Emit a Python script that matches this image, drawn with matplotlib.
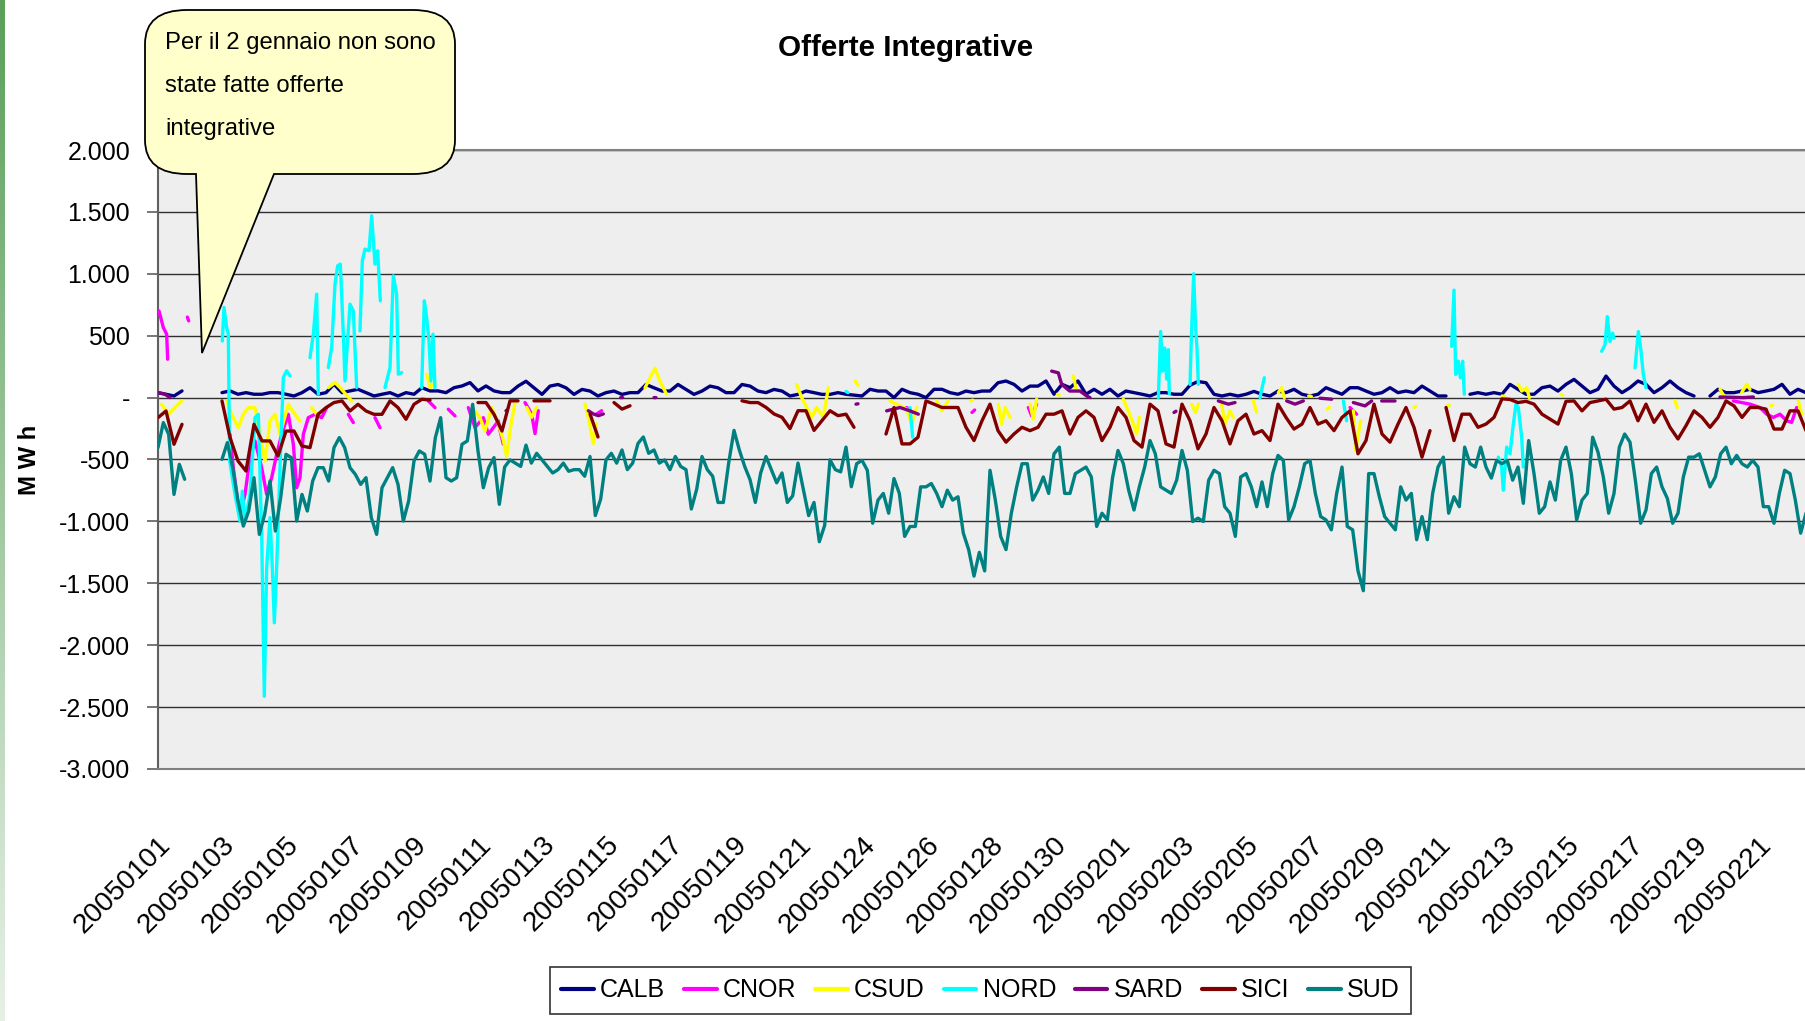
import numpy as np
import matplotlib
matplotlib.use('Agg')
import matplotlib.pyplot as plt
from matplotlib import font_manager
from matplotlib.path import Path
from matplotlib.patches import PathPatch
from matplotlib.ticker import FuncFormatter

nan = np.nan

# Etichette asse x: una ogni 48 ore
date_etichette = ['20050101', '20050103', '20050105', '20050107', '20050109', '20050111',
                  '20050113', '20050115', '20050117', '20050119', '20050121', '20050124',
                  '20050126', '20050128', '20050130', '20050201', '20050203', '20050205',
                  '20050207', '20050209', '20050211', '20050213', '20050215', '20050217',
                  '20050219', '20050221']
ore_per_etichetta = 48

# SUD: un valore ogni 4 ore (6 per giorno), il 2 gennaio manca
passo_sud = 4
sud = [-404, -202, -296, -782, -539, -660,
       nan, nan, nan, nan, nan, nan,
       -499, -364, -566, -835, -1038, -916,
       -647, -1105, -943, -674, -1078, -808,
       -458, -485, -997, -782, -916, -674,
       -566, -566, -674, -404, -323, -404,
       -566, -620, -701, -647, -970, -1105,
       -728, -647, -566, -701, -997, -835,
       -512, -431, -458, -674, -323, -162,
       -647, -674, -647, -377, -350, -54,
       -431, -728, -566, -485, -862, -560,
       -503, -529, -556, -384, -529, -450,
       -503, -556, -609, -582, -529, -595,
       -582, -582, -635, -476, -953, -820,
       -503, -450, -529, -423, -582, -529,
       -370, -318, -450, -423, -529, -503,
       -582, -476, -556, -582, -900, -741,
       -476, -582, -635, -847, -847, -529,
       -265, -423, -556, -662, -847, -609,
       -476, -582, -688, -609, -847, -794,
       -529, -741, -953, -847, -1164, -1032,
       -503, -582, -600, -400, -720, -534,
       -507, -587, -1015, -828, -774, -934,
       -654, -774, -1121, -1041, -1041, -721,
       -721, -694, -774, -881, -748, -828,
       -801, -1095, -1228, -1442, -1250, -1400,
       -587, -828, -1121, -1228, -934, -721,
       -534, -534, -828, -748, -641, -774,
       -454, -400, -774, -774, -614, -587,
       -561, -641, -1041, -934, -988, -641,
       -427, -534, -748, -908, -721, -561,
       -347, -454, -721, -748, -774, -667,
       -427, -587, -1001, -974, -1001, -667,
       -587, -614, -881, -934, -1121, -641,
       -614, -721, -881, -681, -881, -614,
       -467, -507, -988, -881, -721, -534,
       -507, -774, -961, -988, -1068, -774,
       -561, -1041, -1068, -1400, -1560, -614,
       -614, -801, -961, -1015, -1068, -721,
       -828, -774, -1148, -961, -1148, -774,
       -561, -481, -934, -801, -881, -400,
       -534, -561, -400, -561, -650, -507,
       -534, -507, -667, -561, -854, -347,
       -614, -934, -881, -681, -828, -507,
       -400, -614, -988, -828, -774, -320,
       -441, -641, -934, -774, -400, -294,
       -360, -667, -1015, -908, -614, -561,
       -721, -814, -1015, -934, -641, -481,
       -481, -454, -587, -721, -641, -454,
       -400, -534, -467, -534, -561, -507,
       -561, -881, -881, -1015, -774, -587,
       -614, -828, -1095, -934]

# SICI: un valore ogni 6 ore
passo_sici = 6
sici = [-162, -108, -377, -216,
        nan, nan, nan, nan,
        -27, -323, -512, -593,
        -216, -350, -350, -472,
        -270, -270, -391, -404,
        -135, -81, -40, -27,
        -108, -54, -108, -135,
        -135, -27, -81, -175,
        -54, -13, -20, nan,
        nan, nan, nan, nan,
        -40, -40, -135, -270,
        -26, -26, nan, -26,
        -26, -26, nan, nan,
        -79, nan, -132, -318,
        nan, -40, -93, -66,
        nan, nan, nan, nan,
        nan, nan, nan, -26,
        nan, nan, nan, -26,
        nan, -26, -40, -40,
        -79, -132, -159, -250,
        -106, -106, -265, -185,
        -106, -146, -134, -240,
        nan, nan, nan, -294,
        -80, -374, -374, -320,
        -27, -53, -80, -80,
        -80, -240, -347, -187,
        -53, -267, -360, -294,
        -240, -267, -240, -134,
        -134, -107, -294, -160,
        -107, -160, -347, -240,
        -80, -160, -347, -400,
        -53, -107, -374, -400,
        -53, -187, -414, -294,
        -80, -187, -374, -187,
        -134, -294, -267, -347,
        -53, -160, -254, -214,
        -80, -214, -187, -267,
        -160, -107, -454, -347,
        -53, -294, -360, -214,
        -80, -240, -481, -267,
        nan, -80, -347, -134,
        -134, -240, -214, -160,
        -10, -15, -40, -30,
        -53, -134, -174, -214,
        -30, -27, -107, -40,
        -27, -13, -93, -80,
        -27, -187, -53, -200,
        -107, -240, -334, -227,
        -107, -160, -240, -160,
        -27, -67, -160, -80,
        -80, -93, -254, -254,
        -107, -107, -267]

# CALB: un valore ogni 6 ore
passo_calb = 6
calb = [40, 27, 13, 54,
        nan, nan, nan, nan,
        40, 54, 27, 40,
        27, 27, 40, 40,
        27, 13, 40, 80,
        27, 40, 108, 40,
        54, 67, 40, 13,
        27, 40, 13, 40,
        27, 80, 54, 54,
        40, 80, 94, 121,
        54, 94, 54, 40,
        40, 93, 132, 79,
        26, 93, 106, 79,
        26, 66, 53, 13,
        40, 53, 26, 40,
        40, 106, 79, 53,
        53, 106, 66, 26,
        53, 93, 79, 40,
        40, 106, 93, 53,
        40, 66, 53, 13,
        26, 53, 40, 26,
        26, 40, 27, 20,
        13, 67, 53, 53,
        0, 67, 40, 27,
        0, 67, 67, 40,
        27, 53, 40, 53,
        53, 120, 134, 107,
        53, 93, 93, 134,
        27, 107, 80, 134,
        27, 67, 27, 67,
        13, 53, 40, 27,
        13, 40, 40, 27,
        27, 100, 130, 120,
        27, 13, 27, 13,
        27, 50, 27, 13,
        53, 40, 67, 27,
        13, 27, 80, 53,
        27, 80, 80, 53,
        27, 40, 80, 40,
        53, 40, 93, 53,
        13, 13, nan, nan,
        27, 40, 27, 40,
        27, 107, 67, 27,
        27, 80, 93, 53,
        107, 147, 93, 40,
        67, 174, 93, 40,
        80, 134, 107, 40,
        80, 134, 80, 40,
        13, nan, 13, 67,
        40, 40, 53, 67,
        40, 53, 67, 107,
        27, 67, 40]

# Serie a tratti: ora e valore (nan = interruzione)
nord_ore = [48.25, 49.5, 51.5, 52.75, 53.75, 57.75, 61.5, 63.25, 65.25, 69, 72.75, 75.25,
            77.75, 79.75, 81.5, 84, 85.75, 87.25, 89, 91.5, 94, 96.5, 99, 100,
            114, 116.5, 119, 120.25, 121,
            127.75, 130.25, 132.75, 134.75, 136.75, 139, 140.25, 144, 146.5, 149, 150,
            151.5, 153.25, 155.25, 158.25, 160.25, 162.75, 164.75, 166.75, 168,
            170.25, 174, 176.5, 179, 180.25, 182.75, 184,
            197.75, 199.75, 201.5, 203.25, 204.75, 206.25, 207.75, 209,
            516, 517.5, 518,
            564, 566, 567,
            750.25, 752, 753.5, 755, 756.5, 757.75, 758.5, 759,
            774, 775.25, 776.75, 778.25, 779.25, 780.25, 781,
            826.5, 829.75, 830,
            889, 891.5, 892,
            970.25, 972, 973.25, 975.25, 976.75, 978.5, 979.75, 980,
            1005.25, 1007.75, 1009, 1011.5, 1014, 1016.5, 1018.5, 1020.25, 1022.75, 1024, 1025,
            1082.75, 1085.25, 1087, 1089, 1091, 1092, 1093,
            1107.75, 1110.25, 1112, 1114, 1116]
nord_val = [458, 728, 566, 512, -512, -782, -997, -755, -997, -782, -162, -135,
            -1105, -2412, -1374, -970, -1374, -1819, -1374, -566, 162, 216, 175, nan,
            323, 512, 835, 27, nan,
            243, 404, 916, 1065, 1078, 512, 135, 755, 700, 81, nan,
            539, 1105, 1199, 1186, 1469, 1078, 1186, 782, nan,
            81, 243, 984, 835, 189, 202, nan,
            81, 782, 647, 458, 135, 512, 81, nan,
            50, 40, nan,
            -80, -320, nan,
            0, 534, 214, 400, 150, 387, 30, nan,
            107, 560, 1000, 560, 400, 107, nan,
            0, 160, nan,
            -27, -187, nan,
            414, 868, 187, 294, 160, 294, 27, nan,
            -481, -561, -748, -400, -454, -214, -53, -80, -320, -561, nan,
            374, 427, 654, 454, 520, 480, nan,
            240, 534, 400, 187, 80]

cnor_ore = [0.75, 4, 6.5, 7.25, 8,
            22, 23, 24,
            54, 56.5, 59.75, 62.25, 65.25, 69, 72.75, 77.75, 81.5, 85.25, 89, 92.75, 97.75,
            101.5, 104, 106.5, 109, 112.75, 117.75, 122.75, 126.5, 127,
            142.75, 146.5, 147,
            162.75, 166.5, 167,
            202.75, 207.75, 208,
            217.75, 222.75, 223,
            232.75, 237.75, 244, 247.75, 255.25, 256.5, 259, 260,
            275.25, 280.25, 282.75, 285.25, 286,
            329, 332.75, 333,
            561.5, 565.25, 566,
            610.5, 612.5, 613,
            652.75, 655.25, 659, 660,
            894, 899, 900,
            1181.5, 1194, 1201.5, 1206.5, 1211.5, 1216.5, 1221.5, 1225.25, 1229]
cnor_val = [700, 566, 512, 310, nan,
            650, 620, nan,
            -296, -566, -835, -916, -782, -485, -350, -566, -782, -647, -458, -296, -135,
            -377, -728, -647, -296, -162, -135, -162, -81, nan,
            -135, -202, nan,
            -162, -243, nan,
            -27, -81, nan,
            -94, -148, nan,
            -81, -243, -162, -296, -189, -265, -377, nan,
            -40, -132, -291, -106, nan,
            -132, -106, nan,
            -80, -120, nan,
            -120, -100, nan,
            -80, -147, -53, nan,
            -80, -134, nan,
            -27, -53, -80, -134, -160, -134, -187, -200, -80]

csud_ore = [2.75, 7.75, 12.75, 17.75, 18,
            51.5, 55.25, 60.25, 64, 67.75, 72.75, 76.5, 80.25, 84, 87.75, 91.5, 97.75, 102.75, 106.5, 107,
            115.25, 119, 120,
            127.75, 132.75, 136.5, 145.25, 146,
            201.5, 204, 207.75, 208,
            237.75, 241.5, 245.25, 250.25, 255.25, 259, 261.5, 264, 267.75, 268,
            276.5, 280.25, 284, 285,
            320.25, 322.75, 326.5, 329, 330,
            365.25, 369, 372.75, 376.5, 381.5, 382,
            479, 482.75, 486.5, 490.25, 494, 499, 502.75, 503,
            523, 525, 526,
            549, 554, 561.5, 565.25, 569, 570,
            584, 587.75, 592.75, 593,
            609.5, 611, 612,
            630.25, 632.75, 635.25, 639, 640,
            654, 656.5, 659, 660,
            674.5, 676, 677,
            686.5, 689, 690,
            724, 727.75, 731.5, 734, 736, 737,
            775.25, 778.25, 780.25, 781,
            797.75, 800.25, 804, 806.5, 807,
            821.5, 824, 825,
            840.25, 842.75, 844.75, 845,
            863, 865, 866,
            877, 878.5, 879,
            896.5, 898.25, 900.25, 902, 903,
            942, 943.5, 944,
            967, 968.5, 969,
            1008, 1010, 1011,
            1020.25, 1022.75, 1026.5, 1028.5, 1029,
            1052, 1053.5, 1054,
            1137.75, 1139.5, 1140,
            1171.5, 1175.25, 1176,
            1187.75, 1191.5, 1194, 1195,
            1209.5, 1211, 1212,
            1230.25, 1232.75]
csud_val = [-54, -135, -81, -27, nan,
            -27, -135, -243, -135, -81, -81, -296, -512, -189, -135, -296, -54, -135, -189, nan,
            -81, -135, nan,
            81, 121, 81, -27, nan,
            189, 81, 121, nan,
            -108, -162, -270, -81, -212, -344, -476, -265, -40, nan,
            -79, -159, -79, nan,
            -53, -159, -370, -212, nan,
            79, 159, 238, 132, 26, nan,
            106, 0, -79, -159, -79, -159, 79, nan,
            133, 100, nan,
            -27, -53, -93, -214, -80, nan,
            -27, -107, -27, nan,
            -27, -20, nan,
            -53, -214, -80, -160, nan,
            -53, -174, -13, nan,
            27, 20, nan,
            174, 53, nan,
            -13, -107, -214, -294, -160, nan,
            -53, -120, -53, nan,
            -53, -214, -107, -160, nan,
            -27, -120, nan,
            40, 80, 0, nan,
            13, 10, nan,
            -93, -80, nan,
            -107, -427, -294, -187, nan,
            -80, -70, nan,
            -67, -60, nan,
            13, 10, nan,
            107, 53, 80, 0, nan,
            27, 20, nan,
            -27, -80, nan,
            67, 0, nan,
            40, 107, 67, nan,
            -67, -60, nan,
            -27, -134]

sard_ore = [0.25, 5.25, 9, 10,
            261, 262, 263,
            322.75, 326.5, 330.25, 334, 335,
            347, 348.5, 349,
            372, 373.5, 374,
            523.5, 525, 526,
            546.5, 556.5, 564, 570.25, 571,
            670.25, 675.25, 677.75, 683.75, 691.5, 696.5, 699, 700,
            762, 763.5, 764,
            795.25, 802.75, 807.75, 808,
            846.5, 852.75, 859, 860,
            871.5, 880.25, 881,
            896.5, 905.25, 910.25, 911,
            917.75, 927.75, 928,
            1171.5, 1189, 1196.5]
sard_val = [40, 27, 0, nan,
            -106, -100, nan,
            -106, -132, -146, -132, nan,
            0, 0, nan,
            0, 0, nan,
            -53, -50, nan,
            -107, -80, -107, -134, nan,
            214, 200, 107, 53, 53, 13, 0, nan,
            -120, -110, nan,
            -27, -53, -40, nan,
            -27, -53, -27, nan,
            -5, -13, nan,
            -40, -67, -27, nan,
            -27, -27, nan,
            5, 0, 5]

zone = ['CALB', 'CNOR', 'CSUD', 'NORD', 'SARD', 'SICI', 'SUD']
colori = ['#000080', '#FF00FF', '#FFFF00', '#00FFFF', '#800080', '#800000', '#008080']

# Font stretto simile all'originale, se disponibile
disponibili = {f.name for f in font_manager.fontManager.ttflist}
if 'Liberation Sans Narrow' in disponibili:
    font, k = 'Liberation Sans Narrow', 1.0
else:
    font, k = 'Liberation Sans', 0.82
plt.rcParams['font.family'] = [font, 'DejaVu Sans']

W, H = 1805, 1021
fig = plt.figure(figsize=(W / 100, H / 100), dpi=100)
fig.patch.set_facecolor('white')

# area del grafico (continua oltre il bordo destro)
ax = fig.add_axes([158 / W, 1 - 769 / H, 1 - 158 / W, (769 - 150) / H])
ax.set_facecolor('#EEEEEE')

serie = {
    'CALB': (np.arange(len(calb)) * passo_calb, np.array(calb, dtype=float)),
    'CNOR': (np.array(cnor_ore), np.array(cnor_val, dtype=float)),
    'CSUD': (np.array(csud_ore), np.array(csud_val, dtype=float)),
    'NORD': (np.array(nord_ore), np.array(nord_val, dtype=float)),
    'SARD': (np.array(sard_ore), np.array(sard_val, dtype=float)),
    'SICI': (np.arange(len(sici)) * passo_sici, np.array(sici, dtype=float)),
    'SUD': (np.arange(len(sud)) * passo_sud, np.array(sud, dtype=float)),
}
for i, (zona, colore) in enumerate(zip(zone, colori)):
    x, y = serie[zona]
    ax.plot(x, y, color=colore, lw=2.4, label=zona, zorder=3 + i, solid_capstyle='round')

ax.set_ylim(-3000, 2000)
ax.set_xlim(0, (W - 158) / (64 / ore_per_etichetta))
ax.set_yticks(np.arange(-3000, 2001, 500))
ax.yaxis.set_major_formatter(FuncFormatter(
    lambda v, p: '-' if v == 0 else f'{int(v):,}'.replace(',', '.')))
ax.grid(axis='y', color='#303030', lw=1.0)
ax.set_axisbelow(True)
ax.tick_params(axis='y', length=8, width=1.2, color='#606060', pad=12,
               labelsize=22 * k)
ax.set_xticks(np.arange(len(date_etichette)) * ore_per_etichetta)
ax.set_xticklabels(date_etichette, rotation=45, ha='right', va='top',
                   rotation_mode='anchor', fontsize=24.5 * k)
ax.tick_params(axis='x', length=0, pad=45)
ax.spines['right'].set_visible(False)
ax.spines['left'].set_color('#606060')
ax.spines['left'].set_linewidth(1.5)
ax.spines['bottom'].set_color('#808080')
ax.spines['bottom'].set_linewidth(1.5)
ax.spines['top'].set_color('#808080')
ax.spines['top'].set_linewidth(1.5)

fig.text(906 / W, 1 - 48 / H, 'Offerte Integrative', ha='center', va='center',
         fontsize=26 * k, fontweight='bold')
fig.text(29 / W, 1 - 460 / H, 'M W h', ha='center', va='center', rotation=90,
         fontsize=21 * k, fontweight='bold')

leg = fig.legend(loc='upper left', bbox_to_anchor=(550 / W, -0.05, 861 / W, 0.05 + 1 - 967 / H),
                 mode='expand', ncol=7, frameon=True, fancybox=False, fontsize=22 * k,
                 handlelength=1.3, handletextpad=0.25, borderaxespad=0, borderpad=0.45)
leg.get_frame().set_edgecolor('black')
leg.get_frame().set_linewidth(1.2)
for linea in leg.get_lines():
    linea.set_linewidth(3)

# livello sovrapposto in pixel per fumetto e striscia laterale
ov = fig.add_axes([0, 0, 1, 1], zorder=10)
ov.axis('off')

grad = np.linspace(0, 1, 256).reshape(-1, 1)
ov.imshow(grad, extent=[0, 5, H, 0], aspect='auto',
          cmap=matplotlib.colors.LinearSegmentedColormap.from_list('verde', ['#5a9f5a', '#e6f1e6']))
ov.set_xlim(0, W)
ov.set_ylim(H, 0)

L, R, T, B = 145, 455, 10, 174
rx, ry = 42, 34
b1, b2, punta = 196, 274, (202, 353)
vert = [(L + rx, T), (R - rx, T), (R, T), (R, T + ry), (R, B - ry), (R, B), (R - rx, B),
        (b2, B), punta, (b1, B), (L + rx, B), (L, B), (L, B - ry), (L, T + ry), (L, T),
        (L + rx, T), (L + rx, T)]
codici = [Path.MOVETO, Path.LINETO, Path.CURVE3, Path.CURVE3, Path.LINETO, Path.CURVE3,
          Path.CURVE3, Path.LINETO, Path.LINETO, Path.LINETO, Path.LINETO, Path.CURVE3,
          Path.CURVE3, Path.LINETO, Path.CURVE3, Path.CURVE3, Path.CLOSEPOLY]
ov.add_patch(PathPatch(Path(vert, codici), facecolor='#FFFFCC', edgecolor='black', lw=1.3))
righe = ['Per il 2 gennaio non sono', 'state fatte offerte', 'integrative']
for j, riga in enumerate(righe):
    ov.text(165, 43 + 43 * j, riga, ha='left', va='center', fontsize=21 * k)

fig.savefig('out.png', dpi=100)
